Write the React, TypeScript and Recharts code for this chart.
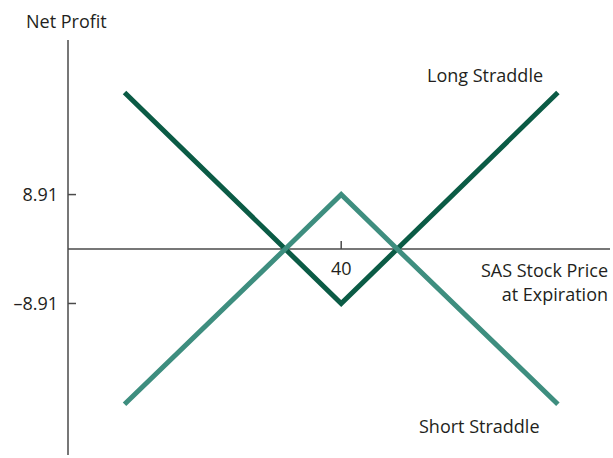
import React from 'react';
import { LineChart, Line, XAxis, YAxis, ReferenceLine, ReferenceDot } from 'recharts';

// stock price at expiration (x) and net profit (y)
const prices = [5.5, 31.09, 40, 48.91, 74.5];
const longStraddle = [25.6, 0, -8.91, 0, 25.6];
const shortStraddle = [-25.4, 0, 8.91, 0, -25.4];
const yTicks = [8.91, -8.91];
const strike = 40;

const data = prices.map((p, i) => ({ price: p, long: longStraddle[i], short: shortStraddle[i] }));

const FONT = '"Open Sans", sans-serif';
const INK = '#231f20';
const AXIS = '#4a4a4a';
const FS = 18;

const YTick = (props: any) => {
  const { x, y, payload } = props;
  const v = payload.value as number;
  const label = v < 0 ? '\u2013' + Math.abs(v).toFixed(2) : v.toFixed(2);
  return (
    <g>
      <line x1={x} y1={y} x2={x + 8} y2={y} stroke={AXIS} strokeWidth={1.5} />
      <text x={x - 10} y={y} dy="0.35em" textAnchor="end" fontSize={FS} fontFamily={FONT} fill={INK}>
        {label}
      </text>
    </g>
  );
};

const StrikeTick = (props: any) => {
  const { cx, cy } = props;
  return (
    <g>
      <line x1={cx} y1={cy} x2={cx} y2={cy - 8} stroke={AXIS} strokeWidth={1.5} />
      <text x={cx} y={cy + 26} textAnchor="middle" fontSize={FS} fontFamily={FONT} fill={INK}>
        {strike}
      </text>
    </g>
  );
};

const App: React.FC = () => {
  return (
    <div style={{ position: 'absolute', left: 0, top: 0, width: 613, height: 458, background: '#fff' }}>
      <LineChart width={613} height={458} data={data} margin={{ top: 40, right: 3, bottom: 3, left: 0 }}>
        <XAxis dataKey="price" type="number" domain={[-3.5, 82.8]} hide />
        <YAxis
          type="number"
          domain={[-33.7, 34.2]}
          ticks={yTicks}
          width={68}
          tickSize={0}
          tickMargin={0}
          tickLine={false}
          axisLine={{ stroke: AXIS, strokeWidth: 1.5 }}
          tick={<YTick />}
        />
        <ReferenceLine y={0} stroke={AXIS} strokeWidth={1.5} />
        <Line type="linear" dataKey="long" stroke="#0b5b45" strokeWidth={5} dot={false} isAnimationActive={false} />
        <Line type="linear" dataKey="short" stroke="#3e8e7f" strokeWidth={5} dot={false} isAnimationActive={false} />
        <ReferenceDot x={strike} y={0} r={0} shape={<StrikeTick />} />
      </LineChart>
      <svg width={613} height={458} style={{ position: 'absolute', left: 0, top: 0, pointerEvents: 'none' }}>
        <g fontFamily={FONT} fontSize={FS} fill={INK}>
          <text x={26} y={28}>Net Profit</text>
          <text x={427} y={82}>Long Straddle</text>
          <text x={608} y={277} textAnchor="end">SAS Stock Price</text>
          <text x={608} y={301} textAnchor="end">at Expiration</text>
          <text x={419} y={433}>Short Straddle</text>
        </g>
      </svg>
    </div>
  );
};

export default App;
